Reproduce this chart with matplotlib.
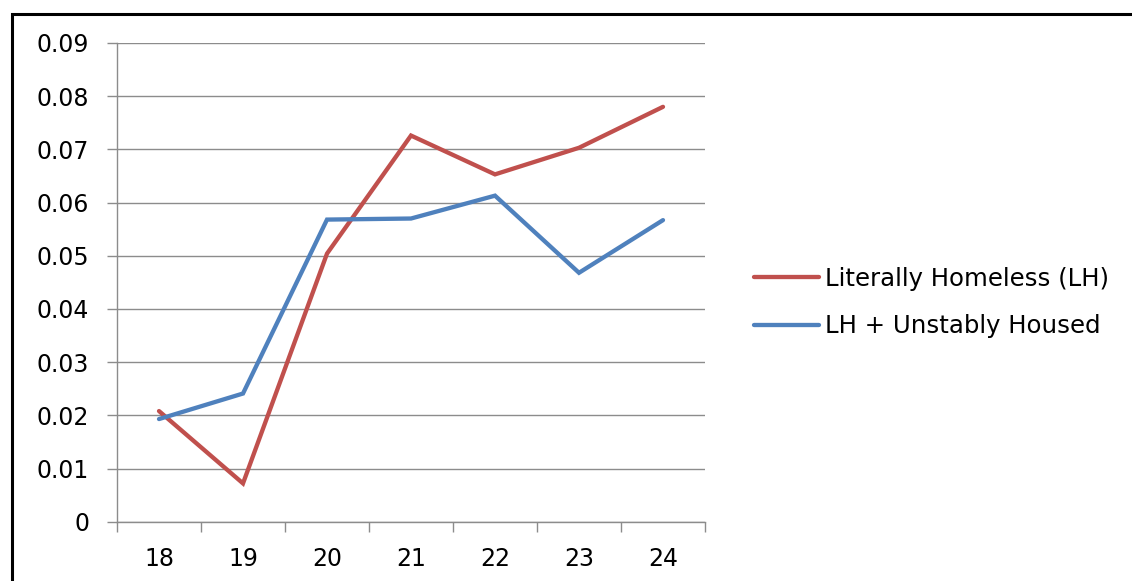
import matplotlib
matplotlib.use("Agg")
import matplotlib.pyplot as plt
from matplotlib.patches import Rectangle
from matplotlib.ticker import FixedLocator, FuncFormatter

ages = ["18", "19", "20", "21", "22", "23", "24"]
literally_homeless = [0.0208, 0.0072, 0.0504, 0.0726, 0.0653, 0.0703, 0.0780]
lh_unstably_housed = [0.0193, 0.0241, 0.0568, 0.0570, 0.0613, 0.0468, 0.0567]
series_labels = ["Literally Homeless (LH)", "LH + Unstably Housed"]
y_ticks = [0, 0.01, 0.02, 0.03, 0.04, 0.05, 0.06, 0.07, 0.08, 0.09]

plt.rcParams['font.family'] = ['DejaVu Sans']

W, H = 1132, 581
fig = plt.figure(figsize=(W / 100, H / 100), dpi=100)
fig.patch.set_facecolor("white")

# outer frame (runs off right and bottom edges)
fig.patches.append(Rectangle((12 / W, -0.2), 1.5, 1 - 13.5 / H + 0.2,
                             transform=fig.transFigure, fill=False,
                             edgecolor="black", linewidth=2.2, clip_on=False))

ax = fig.add_axes([117 / W, 1 - 521.7 / H, (705 - 117) / W, (521.7 - 43) / H])
x = list(range(len(ages)))
ax.plot(x, literally_homeless, color="#C0504D", linewidth=3.1,
        solid_capstyle="round", solid_joinstyle="miter", label=series_labels[0], zorder=3)
ax.plot(x, lh_unstably_housed, color="#4F81BD", linewidth=3.1,
        solid_capstyle="round", solid_joinstyle="miter", label=series_labels[1], zorder=3)

ax.set_xlim(-0.5, len(ages) - 0.5)
ax.set_ylim(0, 0.09)

grid_c = "#8C8C8C"
ax.set_yticks(y_ticks)
ax.yaxis.set_major_formatter(FuncFormatter(lambda v, p: "0" if v == 0 else f"{v:.2f}"))
ax.grid(axis="y", color=grid_c, linewidth=1.0, zorder=0)
ax.set_xticks(x)
ax.set_xticklabels(ages)
ax.xaxis.set_minor_locator(FixedLocator([i - 0.5 for i in range(len(ages) + 1)]))
ax.tick_params(axis="x", which="major", length=0, pad=18, labelsize=17, colors="black")
ax.tick_params(axis="x", which="minor", length=7, width=1.0, color=grid_c, direction="out")
ax.tick_params(axis="y", which="major", length=7, width=1.0, color=grid_c, pad=13,
               labelsize=17, labelcolor="black", direction="out")

for s in ["top", "right"]:
    ax.spines[s].set_visible(False)
for s in ["left", "bottom"]:
    ax.spines[s].set_color(grid_c)
    ax.spines[s].set_linewidth(1.0)

leg = fig.legend(loc="center left", bbox_to_anchor=(744 / W, 1 - 302.5 / H),
                 frameon=False, fontsize=17.6, handlelength=2.65,
                 handletextpad=0.25, labelspacing=0.95, borderaxespad=0)

fig.savefig("out.png", dpi=100, facecolor="white")
